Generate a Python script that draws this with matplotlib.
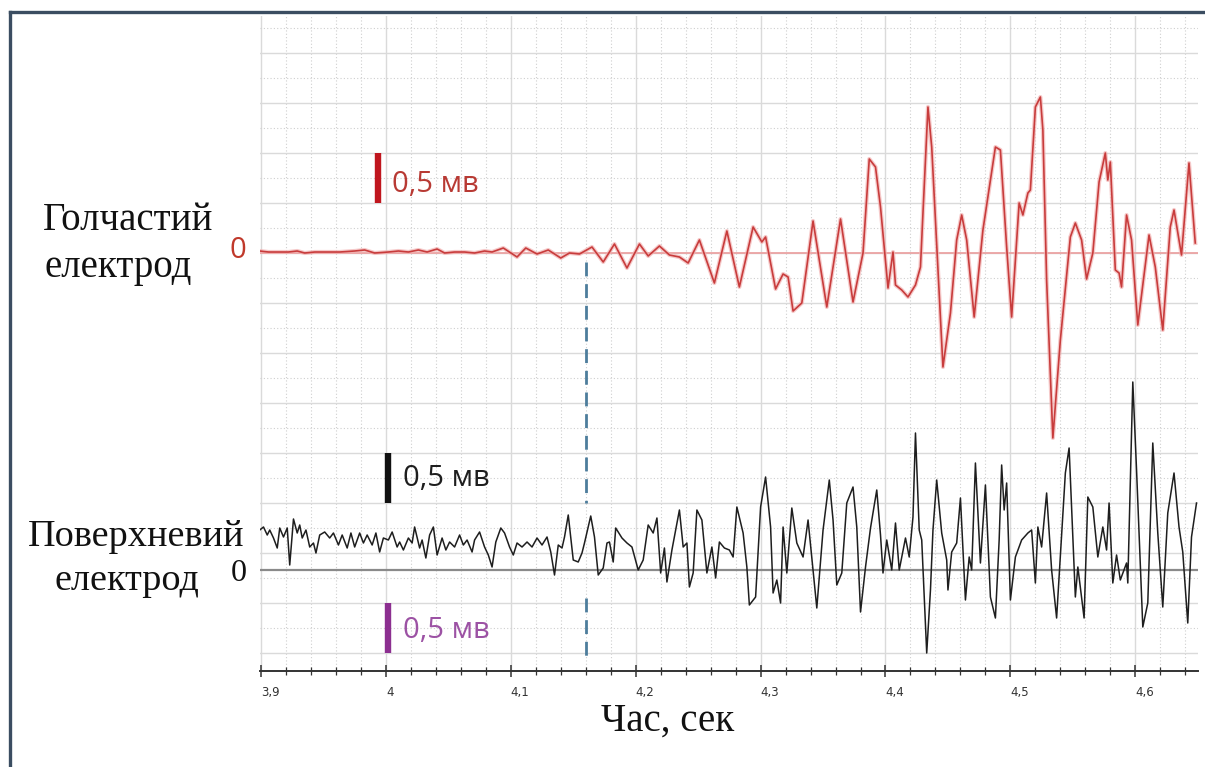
import numpy as np
import matplotlib
matplotlib.use("Agg")
import matplotlib.pyplot as plt
from matplotlib.lines import Line2D
from matplotlib import transforms

# ---------------- data (time in s, potential in mV) ----------------
red_t = [3.899, 3.906, 3.914, 3.922, 3.929, 3.935, 3.943, 3.953, 3.963, 3.975,
         3.983, 3.991, 4.002, 4.010, 4.018, 4.026, 4.033, 4.041, 4.047, 4.055,
         4.063, 4.071, 4.079, 4.085, 4.094, 4.105, 4.112, 4.121, 4.130, 4.140,
         4.147, 4.155, 4.165, 4.174, 4.183, 4.193, 4.203, 4.210, 4.219, 4.227,
         4.235, 4.242, 4.251, 4.263, 4.273, 4.283, 4.294, 4.301, 4.304, 4.312,
         4.318, 4.322, 4.326, 4.333, 4.342, 4.353, 4.364, 4.374, 4.382, 4.387,
         4.392, 4.396, 4.402, 4.406, 4.408, 4.413, 4.418, 4.424, 4.428, 4.430,
         4.434, 4.437, 4.446, 4.452, 4.457, 4.461, 4.465, 4.471, 4.478, 4.488,
         4.492, 4.497, 4.501, 4.507, 4.510, 4.514, 4.516, 4.520, 4.524, 4.526,
         4.529, 4.534, 4.540, 4.548, 4.552, 4.557, 4.561, 4.566, 4.571, 4.576,
         4.578, 4.580, 4.584, 4.587, 4.589, 4.593, 4.597, 4.602, 4.611, 4.616,
         4.622, 4.628, 4.631, 4.637, 4.643, 4.648]
red_v = [0.02, 0.01, 0.01, 0.01, 0.02, 0.00, 0.01, 0.01, 0.01, 0.02,
         0.03, 0.00, 0.01, 0.02, 0.01, 0.03, 0.01, 0.04, 0.00, 0.01,
         0.01, 0.00, 0.02, 0.01, 0.05, -0.04, 0.05, -0.01, 0.03, -0.05,
         0.00, -0.01, 0.06, -0.09, 0.09, -0.15, 0.09, -0.03, 0.07, -0.02,
         -0.04, -0.10, 0.13, -0.30, 0.22, -0.34, 0.26, 0.11, 0.16, -0.36,
         -0.21, -0.24, -0.58, -0.50, 0.32, -0.54, 0.34, -0.49, 0.00, 0.94,
         0.86, 0.46, -0.35, 0.01, -0.32, -0.37, -0.44, -0.32, -0.14, 0.40,
         1.46, 1.06, -1.14, -0.60, 0.13, 0.38, 0.13, -0.64, 0.23, 1.06,
         1.03, 0.06, -0.64, 0.50, 0.38, 0.60, 0.63, 1.46, 1.56, 1.23,
         -0.27, -1.85, -0.87, 0.16, 0.30, 0.13, -0.26, 0.00, 0.71, 1.00,
         0.73, 0.91, -0.17, -0.20, -0.34, 0.38, 0.13, -0.72, 0.18, -0.14,
         -0.77, 0.26, 0.43, -0.02, 0.90, 0.10]

black_t = [3.899, 3.902, 3.905, 3.907, 3.910, 3.913, 3.915, 3.918, 3.921, 3.923,
           3.926, 3.929, 3.931, 3.933, 3.936, 3.939, 3.942, 3.944, 3.947, 3.951,
           3.955, 3.958, 3.962, 3.965, 3.969, 3.972, 3.975, 3.979, 3.982, 3.985,
           3.989, 3.992, 3.995, 3.998, 4.002, 4.005, 4.009, 4.011, 4.014, 4.018,
           4.021, 4.023, 4.027, 4.029, 4.032, 4.035, 4.038, 4.041, 4.045, 4.048,
           4.051, 4.055, 4.059, 4.062, 4.065, 4.069, 4.071, 4.075, 4.079, 4.082,
           4.085, 4.088, 4.092, 4.095, 4.099, 4.102, 4.105, 4.109, 4.113, 4.117,
           4.121, 4.125, 4.129, 4.132, 4.135, 4.138, 4.141, 4.143, 4.146, 4.150,
           4.154, 4.157, 4.159, 4.164, 4.167, 4.170, 4.174, 4.177, 4.179, 4.182,
           4.184, 4.189, 4.193, 4.197, 4.202, 4.206, 4.210, 4.214, 4.217, 4.220,
           4.223, 4.225, 4.229, 4.235, 4.238, 4.241, 4.243, 4.246, 4.249, 4.253,
           4.257, 4.261, 4.264, 4.267, 4.271, 4.275, 4.278, 4.281, 4.286, 4.289,
           4.291, 4.296, 4.300, 4.304, 4.308, 4.310, 4.313, 4.316, 4.318, 4.321,
           4.325, 4.329, 4.334, 4.338, 4.345, 4.350, 4.355, 4.358, 4.361, 4.365,
           4.369, 4.374, 4.377, 4.380, 4.384, 4.388, 4.393, 4.396, 4.398, 4.401,
           4.405, 4.408, 4.411, 4.416, 4.419, 4.422, 4.424, 4.427, 4.429, 4.433,
           4.436, 4.438, 4.441, 4.445, 4.449, 4.450, 4.453, 4.457, 4.460, 4.464,
           4.467, 4.469, 4.472, 4.476, 4.480, 4.484, 4.488, 4.491, 4.493, 4.495,
           4.497, 4.500, 4.504, 4.509, 4.514, 4.517, 4.520, 4.522, 4.525, 4.529,
           4.533, 4.537, 4.544, 4.547, 4.552, 4.554, 4.559, 4.562, 4.566, 4.570,
           4.574, 4.577, 4.579, 4.582, 4.585, 4.588, 4.593, 4.594, 4.598, 4.601,
           4.606, 4.610, 4.614, 4.618, 4.622, 4.626, 4.631, 4.635, 4.638, 4.642,
           4.645, 4.649]
black_v = [0.40, 0.43, 0.35, 0.40, 0.32, 0.22, 0.42, 0.33, 0.42, 0.05,
           0.51, 0.37, 0.45, 0.32, 0.40, 0.23, 0.27, 0.17, 0.35, 0.38,
           0.32, 0.37, 0.25, 0.35, 0.22, 0.37, 0.23, 0.37, 0.27, 0.35,
           0.25, 0.37, 0.18, 0.32, 0.30, 0.38, 0.23, 0.28, 0.20, 0.32,
           0.27, 0.43, 0.22, 0.30, 0.12, 0.35, 0.43, 0.15, 0.32, 0.20,
           0.28, 0.23, 0.35, 0.25, 0.30, 0.18, 0.30, 0.38, 0.23, 0.15,
           0.03, 0.28, 0.42, 0.37, 0.23, 0.15, 0.27, 0.23, 0.28, 0.23,
           0.32, 0.25, 0.33, 0.18, -0.05, 0.25, 0.22, 0.33, 0.55, 0.10,
           0.08, 0.17, 0.27, 0.54, 0.33, -0.05, 0.02, 0.27, 0.28, 0.08,
           0.42, 0.32, 0.27, 0.23, 0.00, 0.10, 0.45, 0.37, 0.52, -0.03,
           0.22, -0.12, 0.20, 0.60, 0.23, 0.27, -0.17, -0.03, 0.60, 0.50,
           -0.03, 0.23, -0.08, 0.28, 0.22, 0.20, 0.13, 0.63, 0.37, 0.03,
           -0.35, -0.27, 0.63, 0.93, 0.43, -0.23, -0.10, -0.33, 0.43, -0.03,
           0.62, 0.27, 0.13, 0.50, -0.38, 0.40, 0.90, 0.50, -0.15, -0.03,
           0.67, 0.83, 0.43, -0.42, 0.03, 0.42, 0.80, 0.35, -0.03, 0.30,
           0.00, 0.47, 0.00, 0.32, 0.13, 0.53, 1.37, 0.40, 0.30, -0.83,
           -0.20, 0.40, 0.90, 0.37, 0.10, -0.20, 0.18, 0.27, 0.72, -0.30,
           0.13, 0.00, 1.07, 0.07, 0.85, -0.27, -0.48, 0.30, 1.05, 0.60,
           0.87, -0.30, 0.13, 0.30, 0.37, 0.40, -0.13, 0.43, 0.23, 0.77,
           0.00, -0.48, 0.97, 1.22, -0.27, 0.03, -0.48, 0.73, 0.63, 0.13,
           0.43, 0.20, 0.67, -0.13, 0.15, -0.10, 0.07, -0.13, 1.88, 1.00,
           -0.57, -0.33, 1.27, 0.37, -0.37, 0.57, 0.97, 0.43, 0.18, -0.53,
           0.33, 0.67]

tick_values = [3.9, 4.0, 4.1, 4.2, 4.3, 4.4, 4.5, 4.6]
tick_labels = ["3,9", "4", "4,1", "4,2", "4,3", "4,4", "4,5", "4,6"]
onset_time = 4.16
scale_mv = 0.5
scale_label = "0,5 мв"
red_name = "Голчастий\nелектрод"
black_name = "Поверхневий\nелектрод"
x_title = "Час, сек"

# ---------------- layout ----------------
black_offset = -3.17
W, H = 1205, 767
fig = plt.figure(figsize=(W / 100, H / 100), dpi=100)
fig.patch.set_facecolor("white")

ax = fig.add_axes([260 / W, 1 - 671 / H, 938 / W, (671 - 16) / H])
ax.set_xlim(3.8992, 4.6502)
ax.set_ylim(-4.18, 2.37)

# grid
ax.set_xticks(tick_values)
ax.set_xticklabels(tick_labels, ha="left")
ax.set_xticks(np.arange(3.9, 4.65, 0.02), minor=True)
ax.set_yticks(np.arange(-4.0, 2.01, 0.5))
ax.set_yticks(np.arange(-3.75, 2.3, 0.5), minor=True)
ax.grid(which="major", color="#dadada", lw=1.0, ls="-")
ax.grid(which="minor", color="#cfcfcf", lw=0.8, ls=(0, (1, 2)))
ax.set_axisbelow(True)
ax.tick_params(axis="y", which="both", length=0, labelleft=False)
ax.tick_params(axis="x", which="major", direction="inout", length=9, width=1.1,
               color="#333333", pad=6, labelsize=8.5, labelcolor="#333333")
ax.tick_params(axis="x", which="minor", direction="inout", length=6, width=0.9,
               color="#333333")
for lbl in ax.get_xticklabels():
    lbl.set_fontfamily(["Liberation Sans Narrow", "DejaVu Sans"])
for s in ["top", "right", "left"]:
    ax.spines[s].set_visible(False)
ax.spines["bottom"].set_color("#333333")
ax.spines["bottom"].set_linewidth(1.4)

# baselines
ax.axhline(0, color="#eba3a3", lw=1.3, zorder=2)
ax.axhline(black_offset, color="#8a8a8a", lw=1.6, zorder=2)

# onset marker (dashed, interrupted through the surface trace)
ax.plot([onset_time, onset_time], [-0.09, -2.50], color="#4d7d9c", lw=2.0,
        dashes=(5, 2.8), zorder=3)
ax.plot([onset_time, onset_time], [-3.45, -4.07], color="#4d7d9c", lw=2.0,
        dashes=(5, 2.8), zorder=3)

# traces
rv = np.array(red_v)
bv = np.array(black_v) + black_offset
ax.plot(red_t, rv, color="#f2b3b3", lw=3.0, alpha=0.7, zorder=4,
        solid_joinstyle="round")
ax.plot(red_t, rv, color="#c83c3c", lw=1.2, zorder=5, solid_joinstyle="round")
ax.plot(black_t, bv, color="#1e1e1e", lw=1.1, zorder=5, solid_joinstyle="round")

# scale bars
sans = ["Open Sans", "DejaVu Sans"]
ax.plot([3.9937, 3.9937], [scale_mv, 2 * scale_mv], color="#c0161e", lw=4.6,
        solid_capstyle="butt", zorder=6)
ax.text(4.005, 0.69, scale_label, color="#b83a34", fontsize=21,
        family=sans, va="center", ha="left", zorder=6)
ax.plot([4.0017, 4.0017], [-2.5, -2.5 + scale_mv], color="#111111", lw=4.6,
        solid_capstyle="butt", zorder=6)
ax.text(4.0137, -2.25, scale_label, color="#1e1e1e", fontsize=21,
        family=sans, va="center", ha="left", zorder=6)
ax.plot([4.0017, 4.0017], [-4.0, -4.0 + scale_mv], color="#8c2f90", lw=4.6,
        solid_capstyle="butt", zorder=6)
ax.text(4.0137, -3.77, scale_label, color="#9c52a4", fontsize=21,
        family=sans, va="center", ha="left", zorder=6)

# zero labels
bt = transforms.blended_transform_factory(ax.transAxes, ax.transData)
ax.text(-0.0235, 0.03, "0", transform=bt, color="#c0392b", fontsize=21,
        family=sans, ha="center", va="center", clip_on=False)
ax.text(-0.0225, black_offset - 0.03, "0", transform=bt, color="#111111",
        fontsize=23, family=["Liberation Serif", "DejaVu Serif"],
        ha="center", va="center", clip_on=False)

# channel names
serif = ["Liberation Serif", "DejaVu Serif"]
l1, l2 = red_name.split("\n")
fig.text(43 / W, 1 - 221 / H, l1, fontsize=28, family=serif, ha="left",
         va="center", color="#111111")
fig.text(45 / W, 1 - 268 / H, l2, fontsize=28, family=serif, ha="left",
         va="center", color="#111111")
b1, b2 = black_name.split("\n")
fig.text(136 / W, 1 - 537 / H, b1, fontsize=27.5, family=serif, ha="center",
         va="center", color="#111111")
fig.text(127 / W, 1 - 581 / H, b2, fontsize=27.5, family=serif, ha="center",
         va="center", color="#111111")

# axis title
fig.text(668 / W, 1 - 721 / H, x_title, fontsize=28, family=serif,
         ha="center", va="center", color="#111111")

# outer frame
fig.add_artist(Line2D([10 / W, 1.0], [1 - 12 / H, 1 - 12 / H],
                      transform=fig.transFigure, color="#3b4d61", lw=2.4))
fig.add_artist(Line2D([10 / W, 10 / W], [0.0, 1 - 12 / H],
                      transform=fig.transFigure, color="#3b4d61", lw=2.4))

fig.savefig("out.png", dpi=100, facecolor="white")
